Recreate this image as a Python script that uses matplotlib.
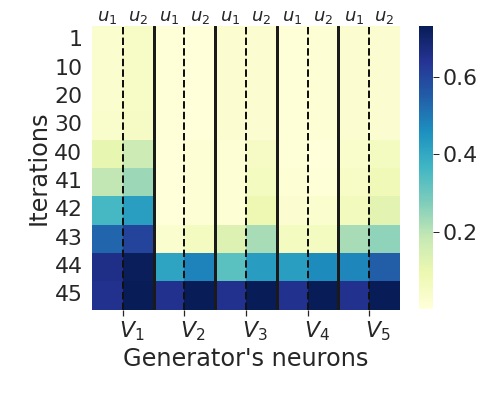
import numpy as np
import matplotlib
matplotlib.use('Agg')
import matplotlib.pyplot as plt
import matplotlib.transforms as mtransforms
import seaborn as sns

sns.set(font_scale=2.0)

# Data
iterations = [1, 10, 20, 30, 40, 41, 42, 43, 44, 45]
neurons = ['$V_1$', '$V_2$', '$V_3$', '$V_4$', '$V_5$']
units = ['$u_1$', '$u_2$'] * 5

it_1 = [0.030, 0.045, 0.008, 0.002, 0.022, 0.022, 0.008, 0.015, 0.022, 0.022]
it_10 = [0.030, 0.045, 0.008, 0.002, 0.022, 0.022, 0.008, 0.015, 0.022, 0.022]
it_20 = [0.030, 0.046, 0.008, 0.002, 0.022, 0.023, 0.008, 0.015, 0.022, 0.023]
it_30 = [0.032, 0.048, 0.008, 0.003, 0.022, 0.024, 0.008, 0.015, 0.023, 0.024]
it_40 = [0.110, 0.170, 0.002, 0.015, 0.015, 0.050, 0.008, 0.002, 0.035, 0.058]
it_41 = [0.190, 0.240, 0.002, 0.015, 0.015, 0.058, 0.015, 0.008, 0.045, 0.080]
it_42 = [0.358, 0.423, 0.002, 0.015, 0.015, 0.088, 0.022, 0.030, 0.066, 0.117]
it_43 = [0.533, 0.606, 0.030, 0.058, 0.131, 0.226, 0.058, 0.058, 0.226, 0.256]
it_44 = [0.657, 0.723, 0.409, 0.482, 0.329, 0.431, 0.423, 0.467, 0.475, 0.548]
it_45 = [0.650, 0.730, 0.650, 0.730, 0.650, 0.730, 0.650, 0.730, 0.650, 0.730]

data = np.array([it_1, it_10, it_20, it_30, it_40, it_41, it_42, it_43, it_44, it_45])

fig = plt.figure(figsize=(7, 5.5), dpi=72)
ax = fig.add_axes([0.1825, 0.218, 0.611, 0.716])
cax = fig.add_axes([0.831, 0.220, 0.028, 0.714])

sns.heatmap(data, cmap='YlGnBu', ax=ax, cbar_ax=cax,
            yticklabels=iterations, cbar_kws={'ticks': [0.2, 0.4, 0.6]})

# separate neurons (solid) and units (dashed)
for k in range(2, 10, 2):
    ax.axvline(k, color='#1a1a1a', lw=3)
for k in range(1, 10, 2):
    ax.axvline(k, color='#111111', lw=2, ls='--')

ax.set_xticks(range(1, 10, 2))
ax.set_xticklabels(neurons, rotation=0, ha='left')
shift = mtransforms.ScaledTranslation(-4 / 72, 0, fig.dpi_scale_trans)
for lab in ax.get_xticklabels():
    lab.set_transform(lab.get_transform() + shift)
ax.set_yticklabels(iterations, rotation=0)
ax.set_xlabel("Generator's neurons")
ax.set_ylabel('Iterations')

top = ax.twiny()
top.set_xlim(ax.get_xlim())
top.set_xticks(np.arange(10) + 0.5)
top.set_xticklabels(units, fontsize=18)
top.tick_params(axis='x', length=0, pad=0)
top.grid(False)
for s in top.spines.values():
    s.set_visible(False)

cax.tick_params(length=6, width=1, color='#262626', right=True)

fig.savefig('out.png', dpi=72)
